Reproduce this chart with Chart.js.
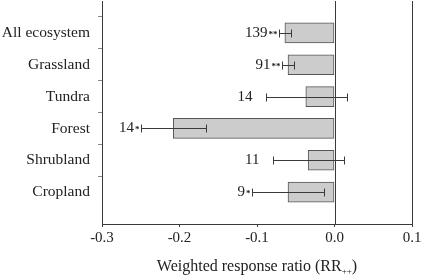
<!DOCTYPE html>
<html>
<head>
<meta charset="utf-8">
<script src="https://cdn.jsdelivr.net/npm/chart.js@4"></script>
<style>
    html, body { margin: 0; padding: 0; background: #fff; }
    #wrap { width: 421px; height: 276px; }
</style>
</head>
<body>
<div id="wrap"><canvas id="chart" width="421" height="276"></canvas></div>
<script>
// ==============================
// DATA
// ==============================

const categories = ['All ecosystem', 'Grassland', 'Tundra', 'Forest', 'Shrubland', 'Cropland'];
const means = [-0.064, -0.060, -0.037, -0.208, -0.034, -0.060];
const ciLow = [-0.072, -0.068, -0.089, -0.250, -0.079, -0.107];
const ciHigh = [-0.056, -0.052, 0.016, -0.166, 0.012, -0.013];
const sampleSizes = [139, 91, 14, 14, 11, 9];
const stars = ['**', '**', '', '*', '', '*'];
const xTicks = [-0.3, -0.2, -0.1, 0.0, 0.1];

const FONT = '"Liberation Serif", "DejaVu Serif", serif';
const INK = '#3a3a3a';

// empty slots above and below so the bars sit one step in from the frame
const yLabels = ['', ...categories, ''];
const barData = [null, ...means, null];

// ==============================
// PLUGINS
// ==============================

// zero line + right edge of the frame
const framePlugin = {
    id: 'frame',
    afterDraw(chart) {
        const { ctx, chartArea: a, scales: { x } } = chart;
        const x0 = Math.round(x.getPixelForValue(0)) + 0.5;
        const xr = Math.floor(x.getPixelForValue(0.1)) + 0.5;
        ctx.save();
        ctx.strokeStyle = INK;
        ctx.lineWidth = 1;
        ctx.beginPath();
        ctx.moveTo(x0, a.top);
        ctx.lineTo(x0, a.bottom);
        ctx.stroke();
        ctx.beginPath();
        ctx.moveTo(xr, a.top);
        ctx.lineTo(xr, a.bottom);
        ctx.stroke();
        ctx.restore();
    }
};

// error bars + sample size / significance labels
const errorPlugin = {
    id: 'errors',
    afterDatasetsDraw(chart) {
        const { ctx, scales: { x, y } } = chart;
        ctx.save();
        ctx.strokeStyle = INK;
        ctx.lineWidth = 1;
        categories.forEach((c, i) => {
            const yc = Math.round(y.getPixelForValue(i + 1)) + 0.5;
            const lo = Math.round(x.getPixelForValue(ciLow[i])) + 0.5;
            const hi = Math.round(x.getPixelForValue(ciHigh[i])) + 0.5;
            ctx.beginPath();
            ctx.moveTo(lo, yc); ctx.lineTo(hi, yc);
            ctx.moveTo(lo, yc - 4); ctx.lineTo(lo, yc + 4);
            ctx.moveTo(hi, yc - 4); ctx.lineTo(hi, yc + 4);
            ctx.stroke();

            // label: number then stars, right-aligned to the left cap
            let right = lo - 2;
            ctx.fillStyle = '#222';
            ctx.textBaseline = 'middle';
            ctx.textAlign = 'right';
            if (stars[i]) {
                ctx.font = 'bold 9px ' + FONT;
                ctx.fillText(stars[i], right, yc + 1);
                right -= ctx.measureText(stars[i]).width + 1;
            } else {
                right -= 12;
            }
            ctx.font = '15px ' + FONT;
            ctx.fillText(String(sampleSizes[i]), right, yc);
        });
        ctx.restore();
    }
};

// x axis title with subscript
const titlePlugin = {
    id: 'xtitle',
    afterDraw(chart) {
        const { ctx, chartArea: a } = chart;
        const main = 'Weighted response ratio (RR';
        const sub = '++';
        const close = ')';
        ctx.save();
        ctx.fillStyle = '#222';
        ctx.textBaseline = 'alphabetic';
        ctx.textAlign = 'left';
        ctx.font = '16px ' + FONT;
        const wMain = ctx.measureText(main).width;
        const wClose = ctx.measureText(close).width;
        ctx.font = '9px ' + FONT;
        const wSub = ctx.measureText(sub).width;
        const total = wMain + wSub + wClose;
        const cx = (a.left + a.right) / 2;
        let xPos = cx - total / 2;
        const base = 271;
        ctx.font = '16px ' + FONT;
        ctx.fillText(main, xPos, base);
        xPos += wMain;
        ctx.font = '9px ' + FONT;
        ctx.fillText(sub, xPos, base + 3);
        xPos += wSub;
        ctx.font = '16px ' + FONT;
        ctx.fillText(close, xPos, base);
        ctx.restore();
    }
};

// ==============================
// CHART
// ==============================

new Chart(document.getElementById('chart'), {
    type: 'bar',
    data: {
        labels: yLabels,
        datasets: [{
            data: barData,
            backgroundColor: '#cccccc',
            borderColor: '#555555',
            borderWidth: 1,
            borderSkipped: false,
            barThickness: 20
        }]
    },
    options: {
        indexAxis: 'y',
        responsive: false,
        animation: false,
        layout: { padding: { top: 1, right: 0, left: 0, bottom: 0 } },
        plugins: {
            legend: { display: false },
            tooltip: { enabled: false }
        },
        scales: {
            x: {
                type: 'linear',
                min: -0.3,
                max: 0.1,
                afterBuildTicks: s => { s.ticks = xTicks.map(v => ({ value: v })); },
                afterFit: s => {
                    s.height = 52;
                    s.paddingLeft = 0;
                    s.paddingRight = 0;
                },
                border: { display: true, color: INK, width: 1 },
                grid: {
                    drawOnChartArea: false,
                    drawTicks: true,
                    tickLength: 3,
                    tickColor: INK
                },
                ticks: {
                    color: '#222',
                    padding: 2,
                    maxRotation: 0,
                    font: { family: FONT, size: 15 },
                    callback: v => v.toFixed(1)
                }
            },
            y: {
                type: 'category',
                offset: false,
                afterFit: s => {
                    s.width = 102;
                    s.paddingTop = 0;
                    s.paddingBottom = 0;
                },
                border: { display: true, color: INK, width: 1 },
                grid: {
                    drawOnChartArea: false,
                    drawTicks: true,
                    tickLength: 4,
                    tickColor: ctx => (ctx.index === 0 || ctx.index === yLabels.length - 1) ? 'rgba(0,0,0,0)' : '#888'
                },
                ticks: {
                    color: '#222',
                    padding: 8,
                    autoSkip: false,
                    font: { family: FONT, size: 15.5 }
                }
            },
            yRight: {
                type: 'category',
                position: 'right',
                display: true,
                afterFit: s => {
                    s.width = 9;
                    s.paddingTop = 0;
                    s.paddingBottom = 0;
                },
                border: { display: false },
                grid: { display: false },
                ticks: { display: false }
            }
        }
    },
    plugins: [framePlugin, errorPlugin, titlePlugin]
});
</script>
</body>
</html>
